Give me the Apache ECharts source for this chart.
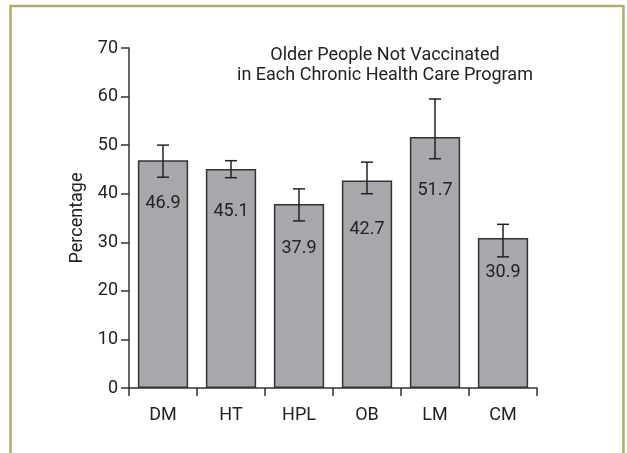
<!DOCTYPE html>
<html>
<head>
<meta charset="utf-8">
<script src="https://cdn.jsdelivr.net/npm/echarts@6/dist/echarts.min.js"></script>
<style>
html,body{margin:0;padding:0;background:#fff;}
#chart{width:627px;height:453px;}
</style>
</head>
<body>
<div id="chart"></div>
<script>
const categories = ["DM", "HT", "HPL", "OB", "LM", "CM"];
const values = [46.9, 45.1, 37.9, 42.7, 51.7, 30.9];
const errLow = [43.4, 43.3, 34.4, 40.0, 47.2, 27.0];
const errHigh = [50.0, 46.8, 41.0, 46.5, 59.5, 33.7];
const yTicks = [0, 10, 20, 30, 40, 50, 60, 70];
const titleLines = ["Older People Not Vaccinated", "in Each Chronic Health Care Program"];

// styling: distance in px from the bar top to the value label's top edge
const labelDistance = [34, 34, 36, 40, 45, 26];

const FONT = "Roboto, 'Liberation Sans', sans-serif";
const TXT = "#222";
const chart = echarts.init(document.getElementById('chart'), null, {renderer: 'canvas'});

const option = {
  backgroundColor: '#fff',
  animation: false,
  title: {
    text: titleLines.join('\n'),
    left: 380, top: 40, textAlign: 'center',
    textStyle: {fontFamily: FONT, fontSize: 18, fontWeight: 'normal', color: TXT, lineHeight: 20}
  },
  graphic: [{
    type: 'rect', shape: {x: 10.5, y: 6, width: 613, height: 470},
    style: {fill: 'none', stroke: '#b3ad6b', lineWidth: 2.5}, silent: true
  }],
  grid: {left: 129, right: 90, top: 48, bottom: 65, containLabel: false},
  xAxis: {
    type: 'category', data: categories,
    axisLine: {lineStyle: {color: '#333', width: 1.5}},
    axisTick: {show: true, length: 8, inside: false, alignWithLabel: false, lineStyle: {color: '#333', width: 1.5}},
    axisLabel: {fontFamily: FONT, fontSize: 18, color: TXT, margin: 18}
  },
  yAxis: {
    type: 'value', min: yTicks[0], max: yTicks[yTicks.length - 1], interval: 10,
    name: 'Percentage', nameLocation: 'middle', nameGap: 42, nameRotate: 90,
    nameTextStyle: {fontFamily: FONT, fontSize: 18, color: TXT},
    axisLine: {show: true, lineStyle: {color: '#333', width: 1.5}},
    axisTick: {show: true, length: 8, lineStyle: {color: '#333', width: 1.5}},
    axisLabel: {fontFamily: FONT, fontSize: 18, color: TXT, margin: 11},
    splitLine: {show: false}
  },
  series: [{
    type: 'bar', barWidth: '74%',
    data: values.map((v, i) => ({
      value: v,
      label: {show: true, position: 'insideTop', distance: labelDistance[i]}
    })),
    itemStyle: {color: '#a7a8ab', borderColor: '#333', borderWidth: 1.5},
    label: {fontFamily: FONT, fontSize: 18, color: TXT, formatter: p => p.value.toFixed(1)},
    z: 2
  }, {
    type: 'custom',
    data: categories.map((c, i) => [i, errLow[i], errHigh[i]]),
    renderItem: function (params, api) {
      const x = api.coord([api.value(0), 0])[0];
      const lo = api.coord([api.value(0), api.value(1)])[1];
      const hi = api.coord([api.value(0), api.value(2)])[1];
      const w = 6;
      const st = {stroke: '#222', lineWidth: 1.5};
      return {type: 'group', children: [
        {type: 'line', shape: {x1: x, y1: lo, x2: x, y2: hi}, style: st},
        {type: 'line', shape: {x1: x - w, y1: hi, x2: x + w, y2: hi}, style: st},
        {type: 'line', shape: {x1: x - w, y1: lo, x2: x + w, y2: lo}, style: st}
      ]};
    },
    z: 3
  }]
};
chart.setOption(option);
</script>
</body>
</html>
